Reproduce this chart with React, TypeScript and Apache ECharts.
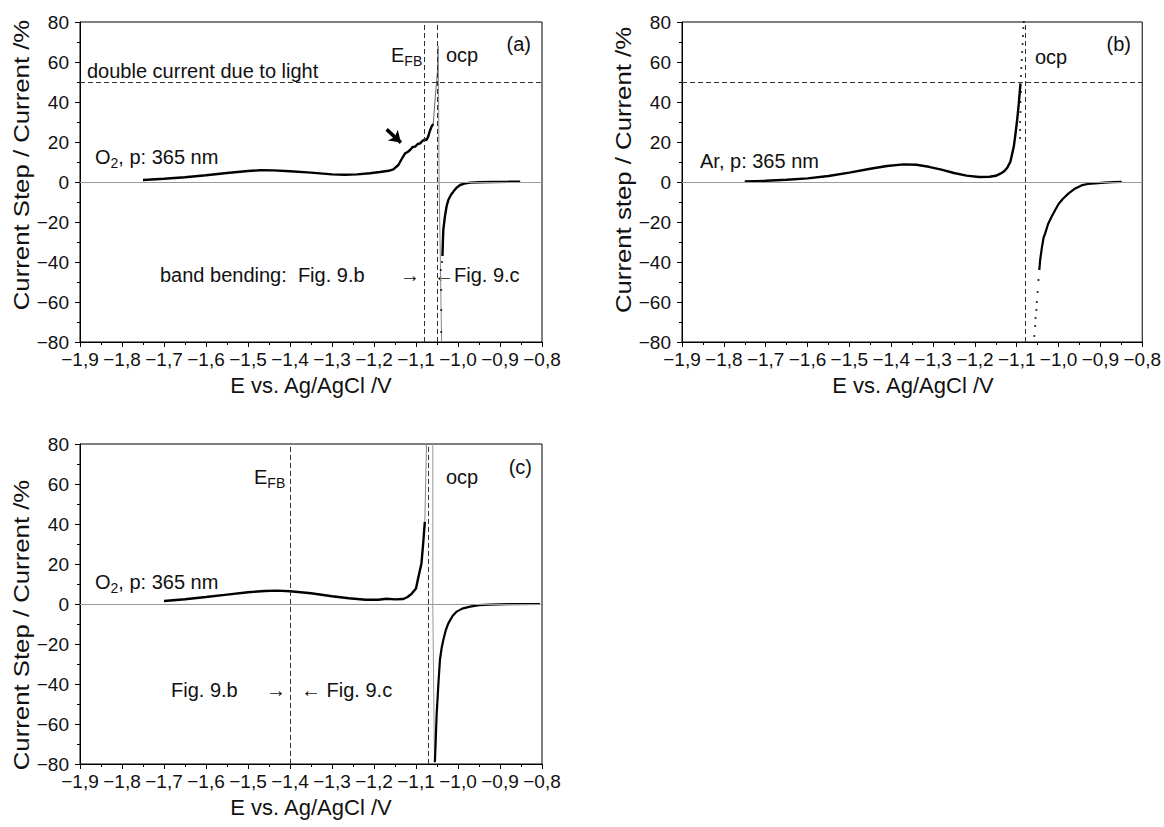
import React, { useEffect, useRef } from 'react';
import * as echarts from 'echarts';

// ---------- axis ranges / ticks ----------
const X_MIN = -1.9;
const X_MAX = -0.8;
const X_STEP = 0.1;
const Y_MIN = -80;
const Y_MAX = 80;
const Y_STEP = 20;

// ---------- panel (a): O2, p: 365 nm ----------
const aMain: [number, number][] = [
  [-1.75, 1.0], [-1.7, 1.6], [-1.65, 2.4], [-1.6, 3.4], [-1.55, 4.5], [-1.5, 5.5],
  [-1.47, 5.9], [-1.44, 5.8], [-1.4, 5.4], [-1.35, 4.7], [-1.3, 3.8], [-1.27, 3.6],
  [-1.24, 3.8], [-1.21, 4.4], [-1.186, 5.0], [-1.165, 5.6], [-1.154, 6.3], [-1.142, 8.5],
  [-1.134, 11.5], [-1.126, 14.3], [-1.12, 15.0], [-1.114, 16.0], [-1.108, 17.5],
  [-1.102, 17.7], [-1.096, 19.0], [-1.09, 19.3], [-1.085, 20.5], [-1.079, 21.3],
  [-1.075, 21.0], [-1.071, 22.7], [-1.067, 25.5], [-1.063, 27.7], [-1.059, 29.0],
];
const aRise: [number, number][] = [
  [-1.059, 29], [-1.055, 40], [-1.051, 50], [-1.049, 55], [-1.047, 68],
];
const aDrop: [number, number][] = [
  [-1.047, 68], [-1.045, 0], [-1.039, -80],
];
const aNeg: [number, number][] = [
  [-1.037, -37], [-1.036, -30], [-1.035, -24], [-1.031, -17], [-1.027, -12],
  [-1.023, -9], [-1.017, -6.5], [-1.011, -4.8], [-1.003, -2.8], [-0.995, -1.5],
  [-0.985, -0.8], [-0.971, -0.3], [-0.95, -0.1], [-0.92, 0], [-0.88, 0.1], [-0.852, 0.2],
];
const aNegDots: [number, number][] = [
  [-1.038, -40], [-1.041, -44], [-1.04, -54], [-1.04, -64], [-1.04, -75],
];
const aArrowFrom: [number, number] = [-1.17, 26.3];
const aArrowTo: [number, number] = [-1.136, 19.7];
const aEFB = -1.08;
const aOCP = -1.047;
const DOUBLE_LEVEL = 50;

// ---------- panel (b): Ar, p: 365 nm ----------
const bMain: [number, number][] = [
  [-1.75, 0.3], [-1.7, 0.6], [-1.65, 1.1], [-1.6, 1.8], [-1.55, 3.0], [-1.5, 4.7],
  [-1.45, 6.6], [-1.41, 8.0], [-1.37, 8.8], [-1.34, 8.6], [-1.31, 7.6], [-1.28, 6.2],
  [-1.25, 4.5], [-1.22, 3.2], [-1.19, 2.5], [-1.165, 2.6], [-1.15, 3.1], [-1.138, 4.3],
  [-1.131, 5.2], [-1.123, 7.0], [-1.115, 10.2], [-1.107, 17.7], [-1.103, 24],
  [-1.099, 31], [-1.095, 39.3], [-1.091, 49.3],
];
const bDots: [number, number][] = [
  [-1.09, 53], [-1.089, 57], [-1.088, 61], [-1.087, 65], [-1.086, 69], [-1.085, 73],
  [-1.084, 77], [-1.083, 80], [-1.09, 45], [-1.091, 40], [-1.091, 35], [-1.092, 30],
  [-1.092, 26], [-1.092, 22],
];
const bNeg: [number, number][] = [
  [-1.046, -44], [-1.044, -39], [-1.04, -33], [-1.036, -28], [-1.032, -25.7],
  [-1.025, -21], [-1.017, -17.5], [-1.008, -14], [-1.0, -11], [-0.99, -8.5],
  [-0.976, -5.7], [-0.96, -3.2], [-0.944, -1.6], [-0.93, -1.0], [-0.913, -0.7],
  [-0.89, -0.3], [-0.87, -0.1], [-0.849, 0.1],
];
const bNegDots: [number, number][] = [
  [-1.048, -49], [-1.05, -55], [-1.052, -60], [-1.053, -64], [-1.055, -68],
  [-1.056, -72], [-1.058, -77],
];
const bOCP = -1.08;

// ---------- panel (c): O2, p: 365 nm ----------
const cMain: [number, number][] = [
  [-1.7, 1.5], [-1.65, 2.4], [-1.6, 3.5], [-1.55, 4.7], [-1.5, 5.9], [-1.46, 6.5],
  [-1.43, 6.7], [-1.4, 6.4], [-1.35, 5.4], [-1.3, 3.9], [-1.26, 2.9], [-1.22, 2.1],
  [-1.19, 2.1], [-1.17, 2.6], [-1.15, 2.3], [-1.13, 2.5], [-1.12, 3.5], [-1.11, 5.2],
  [-1.1, 7.8], [-1.094, 13.7], [-1.087, 20.3], [-1.083, 30], [-1.079, 41],
];
const cRise: [number, number][] = [[-1.079, 41], [-1.075, 80]];
const cVert: [number, number][] = [[-1.06, 80], [-1.06, 0], [-1.056, -80]];
const cNeg: [number, number][] = [
  [-1.055, -79], [-1.053, -68], [-1.051, -56], [-1.047, -41], [-1.043, -28],
  [-1.039, -22], [-1.035, -18], [-1.029, -13], [-1.023, -9.7], [-1.013, -6],
  [-1.003, -3.8], [-0.99, -2.3], [-0.971, -1.3], [-0.95, -0.6], [-0.924, -0.3],
  [-0.88, -0.1], [-0.805, 0],
];
const cEFB = -1.4;
const cOCP = -1.068;

// ---------- layout / style ----------
const FONT = '"Liberation Sans", Arial, Helvetica, sans-serif';
const INK = '#111';
const GRID_W = 462;
const GRID_H = 320;
const GRIDS = [
  { left: 80, top: 22 },
  { left: 682, top: 22 },
  { left: 80, top: 444 },
];

const fmtX = (v: number) =>
  (Math.round(v * 10) / 10).toFixed(1).replace('.', ',').replace('-', '\u2212');
const fmtY = (v: number) => String(Math.round(v)).replace('-', '\u2212');

const dashed = { type: [5, 3], color: '#333', width: 1 };
const zeroStyle = { type: 'solid', color: '#9a9a9a', width: 1 };

function lineSeries(data: [number, number][], idx: number, width: number, color: string, extra: any = {}) {
  return {
    type: 'line',
    xAxisIndex: idx,
    yAxisIndex: idx,
    data,
    symbol: 'none',
    showSymbol: false,
    silent: true,
    lineStyle: { width, color },
    z: 3,
    ...extra,
  };
}

function dotSeries(data: [number, number][], idx: number) {
  return {
    type: 'scatter',
    xAxisIndex: idx,
    yAxisIndex: idx,
    data,
    symbolSize: 2.2,
    silent: true,
    itemStyle: { color: '#000' },
    z: 3,
  };
}

function guideLines(xs: number[], ys: number[], extra: any[] = []) {
  return {
    silent: true,
    symbol: ['none', 'none'],
    label: { show: false },
    emphasis: { disabled: true },
    data: [
      { yAxis: 0, lineStyle: zeroStyle },
      ...xs.map((v) => ({ xAxis: v, lineStyle: dashed })),
      ...ys.map((v) => ({ yAxis: v, lineStyle: dashed })),
      ...extra,
    ],
  };
}

function text(t: string, x: number, y: number, align: string = 'left', size = 20, extra: any = {}) {
  return {
    type: 'text',
    x,
    y,
    silent: true,
    style: {
      text: t,
      fill: INK,
      font: `${size}px ${FONT}`,
      textAlign: align,
      textVerticalAlign: 'middle',
    },
    ...extra,
  };
}

function subText(main: string, sub: string, rest: string, x: number, y: number) {
  return {
    type: 'text',
    x,
    y,
    silent: true,
    style: {
      text: `{n|${main}}{s|${sub}}{n|${rest}}`,
      fill: INK,
      fontFamily: FONT,
      fontSize: 20,
      textAlign: 'left',
      textVerticalAlign: 'middle',
      rich: {
        n: { fontSize: 20, lineHeight: 26, verticalAlign: 'middle', fill: INK, fontFamily: FONT },
        s: { fontSize: 14, lineHeight: 14, verticalAlign: 'bottom', fill: INK, fontFamily: FONT },
      },
    },
  };
}

function yTitle(t: string, x: number, y: number) {
  return {
    type: 'text',
    x,
    y,
    rotation: Math.PI / 2,
    scaleX: 1.12,
    silent: true,
    style: {
      text: t,
      fill: INK,
      font: `23px ${FONT}`,
      textAlign: 'center',
      textVerticalAlign: 'middle',
    },
  };
}

export default function App() {
  const ref = useRef<HTMLDivElement>(null);

  useEffect(() => {
    if (!ref.current) return;
    const chart = echarts.init(ref.current, undefined, { renderer: 'svg' });

    const xAxes = GRIDS.map((_, i) => ({
      type: 'value',
      gridIndex: i,
      min: X_MIN,
      max: X_MAX,
      interval: X_STEP,
      axisLine: { show: true, onZero: false, lineStyle: { color: '#000', width: 1 } },
      axisTick: { show: true, inside: false, length: 5, lineStyle: { color: '#000' } },
      minorTick: { show: true, splitNumber: 2, length: 3, lineStyle: { color: '#000' } },
      splitLine: { show: false },
      axisLabel: { formatter: fmtX, color: INK, fontSize: 19, fontFamily: FONT, margin: 8 },
    }));
    const yAxes = GRIDS.map((_, i) => ({
      type: 'value',
      gridIndex: i,
      min: Y_MIN,
      max: Y_MAX,
      interval: Y_STEP,
      axisLine: { show: true, onZero: false, lineStyle: { color: '#000', width: 1 } },
      axisTick: { show: true, inside: false, length: 5, lineStyle: { color: '#000' } },
      minorTick: { show: true, splitNumber: 2, length: 3, lineStyle: { color: '#000' } },
      splitLine: { show: false },
      axisLabel: { formatter: fmtY, color: INK, fontSize: 19, fontFamily: FONT, margin: 11 },
    }));

    const series: any[] = [
      // panel a
      lineSeries(aMain, 0, 2.4, '#000', {
        markLine: guideLines([aEFB, aOCP], [DOUBLE_LEVEL], [
          [
            { coord: aArrowFrom, symbol: 'none', lineStyle: { color: '#000', width: 3.5, type: 'solid' } },
            { coord: aArrowTo, symbol: 'arrow', symbolSize: 11 },
          ],
        ]),
      }),
      lineSeries(aRise, 0, 1, '#666'),
      lineSeries(aDrop, 0, 1, '#888'),
      lineSeries(aNeg, 0, 2.4, '#000'),
      dotSeries(aNegDots, 0),
      // panel b
      lineSeries(bMain, 1, 2.4, '#000', { markLine: guideLines([bOCP], [DOUBLE_LEVEL]) }),
      dotSeries(bDots, 1),
      lineSeries(bNeg, 1, 2.2, '#000'),
      dotSeries(bNegDots, 1),
      // panel c
      lineSeries(cMain, 2, 2.4, '#000', { markLine: guideLines([cEFB, cOCP], []) }),
      lineSeries(cRise, 2, 1, '#888'),
      lineSeries(cVert, 2, 1, '#999'),
      lineSeries(cNeg, 2, 2.2, '#000'),
    ];

    const graphic: any[] = [
      // axis titles
      yTitle('Current Step / Current /%', 21, 165),
      yTitle('Current step / Current /%', 623, 170),
      yTitle('Current Step / Current /%', 21, 625),
      text('E vs. Ag/AgCl /V', 311, 385, 'center', 22),
      text('E vs. Ag/AgCl /V', 913, 385, 'center', 22),
      text('E vs. Ag/AgCl /V', 311, 807, 'center', 22),
      // panel a
      text('double current due to light', 87, 71),
      subText('E', 'FB', '', 391, 55),
      text('ocp', 446, 55),
      text('(a)', 531, 44, 'right'),
      subText('O', '2', ', p: 365 nm', 95, 157),
      text('band bending:  Fig. 9.b', 160, 275),
      text('\u2192', 400, 275),
      text('\u2190Fig. 9.c', 434, 275),
      // panel b
      text('ocp', 1035, 57),
      text('(b)', 1131, 44, 'right'),
      text('Ar, p: 365 nm', 700, 161),
      // panel c
      subText('E', 'FB', '', 254, 477),
      text('ocp', 446, 477),
      text('(c)', 532, 467, 'right'),
      subText('O', '2', ', p: 365 nm', 95, 582),
      text('Fig. 9.b', 171, 690),
      text('\u2192', 266, 690),
      text('\u2190 Fig. 9.c', 301, 690),
    ];

    chart.setOption({
      animation: false,
      backgroundColor: '#ffffff',
      textStyle: { fontFamily: FONT },
      grid: GRIDS.map((g) => ({
        left: g.left,
        top: g.top,
        width: GRID_W,
        height: GRID_H,
        show: true,
        borderColor: '#000',
        borderWidth: 1,
        backgroundColor: 'transparent',
        containLabel: false,
      })),
      xAxis: xAxes,
      yAxis: yAxes,
      series,
      graphic,
    });

    return () => chart.dispose();
  }, []);

  return (
    <div
      ref={ref}
      style={{ position: 'absolute', left: 0, top: 0, width: 1164, height: 827, background: '#fff' }}
    />
  );
}
